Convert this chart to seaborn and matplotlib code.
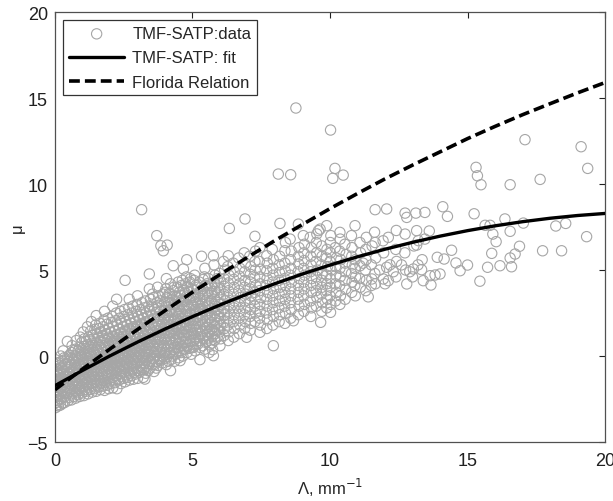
import numpy as np
import pandas as pd
import matplotlib
matplotlib.use('Agg')
import matplotlib.pyplot as plt
import seaborn as sns

# Scatter points (Lambda, mu), grouped by region
cloud_left = [
    (0.02,-3.0),(0.05,-2.7),(0.01,-2.4),(0.04,-2.1),(0.02,-1.8),(0.06,-1.5),(0.03,-1.2),(0.05,-0.9),(0.02,-0.6),(0.02,-0.22),
    (0.12,-2.9),(0.1,-2.6),(0.13,-2.3),(0.09,-2.0),(0.11,-1.7),(0.1,-1.4),(0.12,-1.1),(0.1,-0.8),(0.13,-0.4),
    (0.2,-2.85),(0.22,-2.5),(0.19,-2.2),(0.21,-1.9),(0.2,-1.6),(0.23,-1.3),(0.2,-1.0),(0.22,-0.7),(0.19,-0.35),(0.21,0.0),
    (0.35,-2.7),(0.33,-2.4),(0.36,-2.1),(0.34,-1.8),(0.37,-1.5),(0.35,-1.2),(0.33,-0.9),(0.36,-0.5),(0.34,-0.1),(0.3,0.3),
    (0.45,0.85),(0.47,-2.6),(0.44,-2.2),(0.48,-1.85),(0.46,-1.5),(0.45,-1.15),(0.48,-0.8),(0.44,-0.45),(0.46,-0.05),
    (0.6,-2.55),(0.62,-2.2),(0.58,-1.9),(0.61,-1.55),(0.6,-1.2),(0.63,-0.85),(0.59,-0.5),(0.61,-0.15),(0.6,0.2),(0.62,0.6),
    (0.75,-2.45),(0.77,-2.1),(0.74,-1.75),(0.76,-1.4),(0.75,-1.05),(0.78,-0.7),(0.74,-0.35),(0.76,0.0),(0.75,0.4),(0.77,0.9),
    (0.9,-2.35),(0.92,-2.0),(0.89,-1.65),(0.91,-1.3),(0.9,-0.95),(0.93,-0.6),(0.89,-0.25),(0.91,0.1),(0.9,0.5),(0.92,1.1),
    (1.05,-2.3),(1.07,-1.95),(1.04,-1.6),(1.06,-1.25),(1.05,-0.9),(1.08,-0.55),(1.04,-0.2),(1.06,0.15),(1.05,0.55),(1.07,1.0),(1.03,1.4),
    (1.2,-2.2),(1.22,-1.85),(1.19,-1.5),(1.21,-1.15),(1.2,-0.8),(1.23,-0.45),(1.19,-0.1),(1.21,0.25),(1.2,0.65),(1.22,1.1),(1.18,1.7),
    (1.35,-2.1),(1.37,-1.75),(1.34,-1.4),(1.36,-1.05),(1.35,-0.7),(1.38,-0.35),(1.34,0.0),(1.36,0.35),(1.35,0.75),(1.37,1.2),(1.33,2.0),
    (1.5,-2.05),(1.52,-1.7),(1.49,-1.35),(1.51,-1.0),(1.5,-0.65),(1.53,-0.3),(1.49,0.05),(1.51,0.4),(1.5,0.8),(1.52,1.3),(1.48,1.8),(1.5,2.35),
    (1.65,-1.95),(1.67,-1.6),(1.64,-1.25),(1.66,-0.9),(1.65,-0.55),(1.68,-0.2),(1.64,0.15),(1.66,0.5),(1.65,0.9),(1.67,1.4),(1.63,1.9),
    (1.8,-2.0),(1.82,-1.55),(1.79,-1.2),(1.81,-0.85),(1.8,-0.5),(1.83,-0.15),(1.79,0.2),(1.81,0.6),(1.8,1.0),(1.82,1.5),(1.78,2.1),(1.8,2.6),
    (1.95,-1.9),(1.97,-1.5),(1.94,-1.1),(1.96,-0.75),(1.95,-0.4),(1.98,-0.05),(1.94,0.3),(1.96,0.7),(1.95,1.1),(1.97,1.6),(1.93,2.2),
]

cloud_mid = [
    (2.1,-1.85),(2.12,-1.4),(2.09,-1.05),(2.11,-0.7),(2.1,-0.35),(2.13,0.0),(2.09,0.35),(2.11,0.75),(2.1,1.15),(2.12,1.7),(2.08,2.3),(2.1,2.9),
    (2.25,-1.9),(2.27,-1.35),(2.24,-0.95),(2.26,-0.6),(2.25,-0.25),(2.28,0.1),(2.24,0.45),(2.26,0.85),(2.25,1.25),(2.27,1.8),(2.23,2.5),(2.24,3.3),
    (2.4,-1.6),(2.42,-1.2),(2.39,-0.85),(2.41,-0.5),(2.4,-0.15),(2.43,0.2),(2.39,0.55),(2.41,0.95),(2.4,1.35),(2.42,1.9),(2.38,2.6),
    (2.55,-1.5),(2.57,-1.1),(2.54,-0.75),(2.56,-0.4),(2.55,-0.05),(2.58,0.3),(2.54,0.65),(2.56,1.05),(2.55,1.5),(2.57,2.0),(2.53,2.7),(2.55,4.4),
    (2.7,-1.4),(2.72,-1.0),(2.69,-0.65),(2.71,-0.3),(2.7,0.05),(2.73,0.4),(2.69,0.75),(2.71,1.15),(2.7,1.6),(2.72,2.1),(2.68,2.8),(2.7,3.3),
    (2.85,-1.35),(2.87,-0.95),(2.84,-0.55),(2.86,-0.2),(2.85,0.15),(2.88,0.5),(2.84,0.85),(2.86,1.25),(2.85,1.7),(2.87,2.2),(2.83,2.9),
    (3.0,-1.3),(3.02,-0.85),(2.99,-0.45),(3.01,-0.1),(3.0,0.25),(3.03,0.6),(2.99,0.95),(3.01,1.35),(3.0,1.8),(3.02,2.3),(2.98,3.0),(3.0,3.5),
    (3.15,-0.8),(3.17,-0.4),(3.14,0.0),(3.16,0.35),(3.15,0.7),(3.18,1.05),(3.14,1.45),(3.16,1.9),(3.15,2.4),(3.17,3.1),
    (3.21,-1.24),(3.27,-1.34),
    (3.3,-1.0),(3.32,-0.6),(3.29,-0.25),(3.31,0.1),(3.3,0.45),(3.33,0.8),(3.29,1.15),(3.31,1.55),(3.3,2.0),(3.32,2.5),(3.28,3.2),
    (3.45,-0.7),(3.47,-0.3),(3.44,0.05),(3.46,0.45),(3.45,0.85),(3.48,1.25),(3.44,1.65),(3.46,2.1),(3.45,2.6),(3.47,3.3),(3.43,3.9),(3.43,4.77),
    (3.6,-0.9),(3.62,-0.5),(3.59,-0.15),(3.61,0.2),(3.6,0.55),(3.63,0.95),(3.59,1.35),(3.61,1.75),(3.6,2.2),(3.62,2.7),(3.58,3.4),
    (3.75,-0.55),(3.77,-0.15),(3.74,0.25),(3.76,0.65),(3.75,1.05),(3.78,1.45),(3.74,1.85),(3.76,2.3),(3.75,2.8),(3.77,3.5),(3.73,4.0),
    (3.82,-0.27),
    (3.9,-0.4),(3.92,0.0),(3.89,0.4),(3.91,0.75),(3.9,1.15),(3.93,1.55),(3.89,1.95),(3.91,2.4),(3.9,2.9),(3.92,3.6),
    (4.05,-0.5),(4.07,-0.05),(4.04,0.35),(4.06,0.75),(4.05,1.15),(4.08,1.55),(4.04,1.95),(4.06,2.4),(4.05,2.9),(4.07,3.4),(4.03,3.9),(4.05,4.5),
    (4.2,-0.85),(4.22,-0.2),(4.19,0.2),(4.21,0.6),(4.2,1.0),(4.23,1.4),(4.19,1.8),(4.21,2.2),(4.2,2.65),(4.22,3.1),(4.18,3.6),(4.2,4.2),
    (4.35,-0.3),(4.37,0.1),(4.34,0.5),(4.36,0.9),(4.35,1.3),(4.38,1.7),(4.34,2.1),(4.36,2.5),(4.35,3.0),(4.37,3.5),(4.33,4.0),(4.3,5.25),
    (4.5,-0.1),(4.52,0.3),(4.49,0.7),(4.51,1.1),(4.5,1.5),(4.53,1.9),(4.49,2.3),(4.51,2.75),(4.5,3.2),(4.52,3.7),(4.48,4.3),
    (4.55,-0.27),
    (4.65,0.0),(4.67,0.4),(4.64,0.8),(4.66,1.2),(4.65,1.6),(4.68,2.0),(4.64,2.4),(4.66,2.85),(4.65,3.3),(4.67,3.8),(4.63,4.4),(4.67,5.06),
    (4.8,0.2),(4.82,0.6),(4.79,1.0),(4.81,1.4),(4.8,1.8),(4.83,2.2),(4.79,2.6),(4.81,3.0),(4.8,3.5),(4.82,4.0),(4.78,4.6),(4.79,5.6),
    (4.95,0.1),(4.97,0.5),(4.94,0.9),(4.96,1.3),(4.95,1.7),(4.98,2.1),(4.94,2.5),(4.96,2.95),(4.95,3.4),(4.97,3.9),(4.93,4.5),
]

# extra points filling the dense core between the columns above
cloud_core = [
    (0.07,-2.85),(0.08,-2.55),(0.06,-2.25),(0.07,-1.95),(0.09,-1.65),(0.06,-1.35),(0.08,-1.05),(0.07,-0.75),
    (0.28,-2.75),(0.27,-2.35),(0.29,-2.0),(0.26,-1.65),(0.28,-1.35),(0.3,-1.05),(0.27,-0.75),(0.28,-0.3),
    (0.52,-2.4),(0.54,-2.05),(0.51,-1.7),(0.53,-1.35),(0.52,-1.0),(0.55,-0.65),(0.51,-0.3),(0.53,0.05),
    (0.68,-2.35),(0.7,-2.0),(0.67,-1.6),(0.69,-1.25),(0.68,-0.95),(0.71,-0.55),(0.67,-0.2),(0.69,0.3),
    (0.83,-2.25),(0.85,-1.9),(0.82,-1.55),(0.84,-1.2),(0.83,-0.85),(0.86,-0.45),(0.82,-0.1),(0.84,0.3),
    (0.98,-2.15),(1.0,-1.8),(0.97,-1.45),(0.99,-1.1),(0.98,-0.7),(1.01,-0.35),(0.97,0.0),(0.99,0.35),(0.98,0.8),
    (1.13,-2.05),(1.15,-1.7),(1.12,-1.35),(1.14,-1.0),(1.13,-0.65),(1.16,-0.3),(1.12,0.05),(1.14,0.45),(1.13,0.85),
    (1.28,-1.95),(1.3,-1.6),(1.27,-1.25),(1.29,-0.9),(1.28,-0.55),(1.31,-0.2),(1.27,0.15),(1.29,0.55),(1.28,0.95),(1.3,1.45),
    (1.43,-1.9),(1.45,-1.55),(1.42,-1.2),(1.44,-0.85),(1.43,-0.5),(1.46,-0.15),(1.42,0.2),(1.44,0.6),(1.43,1.05),(1.45,1.55),
    (1.58,-1.8),(1.6,-1.45),(1.57,-1.1),(1.59,-0.75),(1.58,-0.4),(1.61,-0.05),(1.57,0.3),(1.59,0.65),(1.58,1.1),(1.6,1.6),
    (1.73,-1.75),(1.75,-1.4),(1.72,-1.05),(1.74,-0.7),(1.73,-0.35),(1.76,0.0),(1.72,0.4),(1.74,0.8),(1.73,1.2),(1.75,1.7),
    (1.88,-1.7),(1.9,-1.3),(1.87,-0.95),(1.89,-0.6),(1.88,-0.25),(1.91,0.1),(1.87,0.5),(1.89,0.9),(1.88,1.3),(1.9,1.85),
    (2.03,-1.6),(2.05,-1.25),(2.02,-0.9),(2.04,-0.55),(2.03,-0.2),(2.06,0.15),(2.02,0.55),(2.04,0.95),(2.03,1.4),(2.05,1.95),
    (2.18,-1.55),(2.2,-1.15),(2.17,-0.8),(2.19,-0.45),(2.18,-0.1),(2.21,0.25),(2.17,0.6),(2.19,1.0),(2.18,1.45),(2.2,2.05),
    (2.33,-1.4),(2.35,-1.05),(2.32,-0.7),(2.34,-0.35),(2.33,0.0),(2.36,0.35),(2.32,0.75),(2.34,1.1),(2.33,1.55),(2.35,2.2),
    (2.48,-1.3),(2.5,-0.95),(2.47,-0.6),(2.49,-0.25),(2.48,0.1),(2.51,0.45),(2.47,0.85),(2.49,1.25),(2.48,1.7),(2.5,2.3),
    (2.63,-1.25),(2.65,-0.85),(2.62,-0.5),(2.64,-0.15),(2.63,0.2),(2.66,0.55),(2.62,0.95),(2.64,1.35),(2.63,1.8),(2.65,2.4),
    (2.78,-1.15),(2.8,-0.75),(2.77,-0.4),(2.79,-0.05),(2.78,0.3),(2.81,0.65),(2.77,1.05),(2.79,1.45),(2.78,1.9),(2.8,2.5),
    (2.93,-1.05),(2.95,-0.65),(2.92,-0.3),(2.94,0.05),(2.93,0.4),(2.96,0.75),(2.92,1.15),(2.94,1.55),(2.93,2.0),(2.95,2.6),
    (3.08,-0.95),(3.1,-0.6),(3.07,-0.25),(3.09,0.15),(3.08,0.5),(3.11,0.85),(3.07,1.25),(3.09,1.65),(3.08,2.1),(3.1,2.7),
    (3.23,-0.8),(3.25,-0.45),(3.22,-0.1),(3.24,0.25),(3.23,0.6),(3.26,0.95),(3.22,1.35),(3.24,1.75),(3.23,2.2),(3.25,2.8),
    (3.38,-0.85),(3.4,-0.45),(3.37,-0.1),(3.39,0.25),(3.38,0.65),(3.41,1.0),(3.37,1.4),(3.39,1.8),(3.38,2.3),(3.4,2.9),
    (3.53,-0.5),(3.55,-0.15),(3.52,0.25),(3.54,0.6),(3.53,1.0),(3.56,1.4),(3.52,1.85),(3.54,2.35),(3.53,2.9),(3.55,3.6),
    (3.68,-0.7),(3.7,-0.3),(3.67,0.05),(3.69,0.45),(3.68,0.85),(3.71,1.25),(3.67,1.65),(3.69,2.05),(3.68,2.55),(3.7,3.1),
    (3.83,-0.2),(3.85,0.2),(3.82,0.55),(3.84,0.95),(3.83,1.35),(3.86,1.75),(3.82,2.15),(3.84,2.6),(3.83,3.2),
    (3.98,-0.15),(4.0,0.2),(3.97,0.6),(3.99,1.0),(3.98,1.35),(4.01,1.75),(3.97,2.2),(3.99,2.65),(3.98,3.15),(4.0,3.7),
    (4.13,-0.3),(4.15,0.15),(4.12,0.55),(4.14,0.95),(4.13,1.35),(4.16,1.75),(4.12,2.15),(4.14,2.6),(4.13,3.1),(4.15,3.65),
    (4.28,0.0),(4.3,0.4),(4.27,0.8),(4.29,1.2),(4.28,1.6),(4.31,2.0),(4.27,2.4),(4.29,2.85),(4.28,3.3),(4.3,3.8),
    (4.43,0.15),(4.45,0.5),(4.42,0.9),(4.44,1.3),(4.43,1.7),(4.46,2.1),(4.42,2.55),(4.44,3.0),(4.43,3.45),(4.45,4.0),
    (4.58,0.2),(4.6,0.6),(4.57,1.0),(4.59,1.4),(4.58,1.8),(4.61,2.2),(4.57,2.6),(4.59,3.05),(4.58,3.5),(4.6,4.1),
    (4.73,0.4),(4.75,0.8),(4.72,1.2),(4.74,1.6),(4.73,2.0),(4.76,2.4),(4.72,2.85),(4.74,3.25),(4.73,3.7),(4.75,4.2),
    (4.88,0.45),(4.9,0.85),(4.87,1.25),(4.89,1.65),(4.88,2.05),(4.91,2.45),(4.87,2.85),(4.89,3.3),(4.88,3.75),(4.9,4.3),
    (5.03,0.5),(5.05,0.9),(5.02,1.3),(5.04,1.7),(5.03,2.1),(5.06,2.5),(5.02,2.95),(5.04,3.4),(5.03,3.85),(5.05,4.4),
    (5.2,0.7),(5.22,1.1),(5.19,1.5),(5.21,1.9),(5.2,2.3),(5.23,2.7),(5.19,3.1),(5.21,3.55),(5.2,4.0),
    (5.37,0.6),(5.39,1.0),(5.36,1.4),(5.38,1.8),(5.37,2.2),(5.4,2.6),(5.36,3.0),(5.38,3.45),(5.37,3.9),(5.39,4.45),
    (5.53,0.85),(5.55,1.25),(5.52,1.65),(5.54,2.05),(5.53,2.45),(5.56,2.85),(5.52,3.25),(5.54,3.7),(5.53,4.2),
    (5.7,0.75),(5.72,1.15),(5.69,1.55),(5.71,1.95),(5.7,2.35),(5.73,2.75),(5.69,3.2),(5.71,3.65),(5.7,4.1),
    (5.9,1.1),(5.92,1.5),(5.89,1.9),(5.91,2.3),(5.9,2.7),(5.93,3.1),(5.89,3.55),(5.91,4.0),(5.9,4.5),
]

cloud_right = [
    (5.1,0.3),(5.12,0.7),(5.09,1.1),(5.11,1.5),(5.1,1.9),(5.13,2.3),(5.09,2.7),(5.11,3.15),(5.1,3.6),(5.12,4.1),(5.08,4.7),
    (5.27,-0.21),(5.28,0.5),(5.26,0.9),(5.29,1.3),(5.27,1.7),(5.3,2.1),(5.26,2.5),(5.28,2.9),(5.27,3.35),(5.29,3.8),(5.25,4.3),(5.33,5.8),
    (5.45,0.4),(5.47,0.8),(5.44,1.2),(5.46,1.6),(5.45,2.0),(5.48,2.4),(5.44,2.8),(5.46,3.2),(5.45,3.6),(5.47,4.1),(5.43,4.6),(5.45,5.1),
    (5.6,0.2),(5.62,0.65),(5.59,1.05),(5.61,1.45),(5.6,1.85),(5.63,2.25),(5.59,2.65),(5.61,3.05),(5.6,3.5),(5.62,3.95),(5.58,4.5),
    (5.76,0.02),(5.73,0.37),(5.76,1.48),(5.76,5.83),
    (5.8,0.9),(5.82,1.3),(5.79,1.7),(5.81,2.1),(5.8,2.5),(5.83,2.9),(5.79,3.3),(5.81,3.75),(5.8,4.2),(5.82,4.7),(5.78,5.3),
    (6.0,0.6),(6.02,1.0),(5.99,1.4),(6.01,1.8),(6.0,2.2),(6.03,2.6),(5.99,3.0),(6.01,3.4),(6.0,3.85),(6.02,4.3),(5.98,4.8),
    (6.15,1.2),(6.17,1.6),(6.14,2.0),(6.16,2.4),(6.15,2.8),(6.18,3.2),(6.14,3.6),(6.16,4.05),(6.15,4.5),(6.17,5.0),(6.13,5.5),
    (6.3,0.9),(6.32,1.4),(6.29,1.8),(6.31,2.2),(6.3,2.6),(6.33,3.0),(6.29,3.4),(6.31,3.8),(6.3,4.25),(6.32,4.7),(6.28,5.2),(6.3,5.83),(6.34,7.42),
    (6.5,1.1),(6.52,1.6),(6.49,2.0),(6.51,2.4),(6.5,2.8),(6.53,3.2),(6.49,3.6),(6.51,4.0),(6.5,4.45),(6.52,4.9),(6.48,5.4),
    (6.7,1.3),(6.72,1.8),(6.69,2.2),(6.71,2.6),(6.7,3.0),(6.73,3.4),(6.69,3.8),(6.71,4.2),(6.7,4.65),(6.72,5.1),(6.68,5.7),
    (6.97,1.09),(6.9,1.6),(6.92,2.0),(6.89,2.4),(6.91,2.8),(6.9,3.2),(6.93,3.6),(6.89,4.0),(6.91,4.4),(6.9,4.9),(6.92,5.4),(6.88,6.0),(6.91,7.97),
    (7.1,1.5),(7.12,1.9),(7.09,2.3),(7.11,2.7),(7.1,3.1),(7.13,3.5),(7.09,3.9),(7.11,4.3),(7.1,4.75),(7.12,5.2),(7.08,5.8),
    (7.27,2.0),(7.29,2.5),(7.26,2.9),(7.28,3.3),(7.27,3.7),(7.3,4.1),(7.26,4.55),(7.28,5.0),(7.27,5.5),(7.29,6.1),(7.27,6.96),
    (7.45,1.38),(7.47,1.8),(7.44,2.2),(7.46,2.6),(7.45,3.0),(7.48,3.4),(7.44,3.8),(7.46,4.2),(7.45,4.6),(7.47,5.05),(7.43,5.5),(7.45,6.3),
    (7.7,1.6),(7.72,2.1),(7.69,2.5),(7.71,2.9),(7.7,3.3),(7.73,3.7),(7.69,4.1),(7.71,4.5),(7.7,4.95),(7.72,5.4),(7.7,5.83),
    (7.94,0.6),(7.92,1.8),(7.94,2.3),(7.91,2.7),(7.93,3.1),(7.92,3.5),(7.95,3.9),(7.91,4.3),(7.93,4.7),(7.92,5.1),(7.94,5.6),(7.9,6.2),
    (8.15,2.0),(8.17,2.4),(8.14,2.8),(8.16,3.2),(8.15,3.6),(8.18,4.0),(8.14,4.4),(8.16,4.85),(8.15,5.3),(8.17,5.8),(8.18,7.71),
    (8.36,1.9),(8.38,2.5),(8.35,2.9),(8.37,3.3),(8.36,3.7),(8.39,4.1),(8.35,4.5),(8.37,4.95),(8.36,5.4),(8.36,6.12),(8.38,6.6),
    (8.57,2.2),(8.59,2.7),(8.56,3.1),(8.58,3.5),(8.57,3.9),(8.6,4.3),(8.56,4.7),(8.58,5.1),(8.57,5.6),(8.59,6.1),(8.55,6.8),(8.67,2.05),
    (8.85,2.4),(8.87,2.9),(8.84,3.3),(8.86,3.7),(8.85,4.1),(8.88,4.5),(8.84,4.9),(8.86,5.35),(8.85,5.8),(8.87,6.3),(8.85,7.67),
    (9.05,2.6),(9.07,3.0),(9.04,3.5),(9.06,3.9),(9.05,4.3),(9.08,4.7),(9.04,5.1),(9.06,5.55),(9.05,6.0),(9.07,6.5),(9.03,7.0),
    (9.3,2.3),(9.32,2.8),(9.29,3.2),(9.31,3.7),(9.3,4.1),(9.33,4.5),(9.29,4.9),(9.31,5.3),(9.3,5.8),(9.32,6.3),(9.28,6.9),
    (9.5,2.9),(9.52,3.4),(9.49,3.8),(9.51,4.2),(9.5,4.6),(9.53,5.0),(9.49,5.5),(9.51,6.0),(9.5,6.6),(9.52,7.1),
    (9.66,1.96),(9.64,7.38),(9.58,7.29),
    (9.7,2.6),(9.72,3.1),(9.69,3.6),(9.71,4.0),(9.7,4.4),(9.73,4.8),(9.69,5.3),(9.71,5.8),(9.7,6.4),
    (9.88,7.58),(9.88,2.8),(9.9,3.3),(9.87,3.8),(9.89,4.2),(9.88,4.7),(9.91,5.2),(9.87,5.7),(9.89,6.2),
    (10.02,2.54),(10.03,3.0),(10.0,3.5),(10.02,4.0),(10.01,4.5),(10.04,5.0),(10.0,5.5),(10.02,6.0),(10.01,6.6),(10.03,7.0),
    (10.2,3.2),(10.22,3.7),(10.19,4.2),(10.21,4.7),(10.2,5.2),(10.23,5.7),(10.19,6.3),
    (10.36,3.0),(10.38,3.5),(10.35,4.1),(10.37,4.6),(10.36,5.1),(10.39,5.6),(10.35,6.1),(10.37,6.8),(10.36,7.19),
    (10.55,3.3),(10.57,3.9),(10.54,4.4),(10.56,4.9),(10.55,5.4),(10.58,5.9),(10.54,6.5),
]

sparse_pts = [
    (10.79,3.7),(10.8,4.3),(10.78,4.8),(10.81,5.3),(10.79,5.8),(10.8,6.3),(10.78,7.0),
    (10.91,7.58),(10.92,3.5),(10.9,4.1),(10.93,4.6),(10.91,5.1),(10.92,5.6),
    (11.09,5.25),(11.1,4.0),(11.08,4.5),(11.11,6.0),(11.09,6.6),(11.2,5.4),
    (11.3,3.8),(11.32,4.4),(11.29,5.0),(11.31,5.6),(11.3,6.2),(11.32,6.9),(11.39,3.44),
    (11.52,4.48),(11.5,5.3),(11.53,6.4),(11.5,4.1),(11.64,8.51),(11.65,4.2),(11.63,4.8),(11.66,5.7),(11.64,6.6),(11.62,7.2),
    (11.8,5.0),(11.94,4.48),(12.06,5.16),(11.95,6.0),(11.93,6.7),(12.06,8.55),(12.12,4.38),(12.12,6.9),(12.18,5.3),(12.0,4.2),
    (12.3,4.9),(12.4,4.6),(12.42,5.5),(12.39,6.2),(12.41,7.3),(12.6,5.3),
    (12.73,8.31),(12.73,7.09),(12.79,4.19),(12.75,5.0),(12.72,6.0),(12.79,8.06),(12.9,4.9),
    (13.0,4.6),(13.03,5.06),(13.05,6.4),(13.12,8.31),(13.15,7.29),(13.21,6.71),(13.15,6.45),(13.2,5.3),
    (13.33,5.02),(13.39,4.38),(13.35,5.6),(13.45,8.35),(13.45,6.8),(13.61,7.27),(13.64,4.67),
    (13.67,4.13),(13.82,4.71),(13.9,5.74),(14.0,4.77),(14.1,8.68),(14.15,5.64),(14.27,8.12),(14.42,6.15),
    (14.58,5.41),(14.73,4.96),(15.0,5.29),(15.24,8.27),
    (15.31,10.97),(15.36,10.48),(15.49,9.96),(15.45,4.35),(15.64,7.6),(15.82,7.6),(15.88,5.97),(15.73,5.16),
    (15.92,7.09),(16.04,6.65),(16.18,5.25),(16.36,7.97),(16.55,9.96),(16.55,7.25),(16.55,5.7),(16.6,5.19),
    (16.73,5.93),(16.89,6.38),(17.03,7.73),(17.09,12.58),(17.64,10.27),(17.73,6.12),(18.21,7.56),(18.42,6.12),
    (18.57,7.71),(19.13,12.17),(19.33,6.94),(19.37,10.91),
]

high_outliers = [
    (8.76,14.42),(10.02,13.14),(8.12,10.58),(8.57,10.54),(10.18,10.91),(10.1,10.33),(10.48,10.52),
    (3.15,8.51),(3.7,7.0),(3.85,6.41),(4.08,6.45),(3.94,6.12),
]

# Curves at integer Lambda
curve_x = [0, 1, 2, 3, 4, 5, 6, 7, 8, 9, 10, 11, 12, 13, 14, 15, 16, 17, 18, 19, 20]
fit_mu = [-1.72, -0.84, 0.01, 0.81, 1.57, 2.29, 2.97, 3.61, 4.21, 4.77, 5.29,
          5.77, 6.21, 6.61, 6.97, 7.29, 7.57, 7.81, 8.01, 8.17, 8.29]
florida_mu = [-1.96, -0.76, 0.41, 1.54, 2.64, 3.71, 4.74, 5.74, 6.72, 7.65, 8.57,
              9.45, 10.3, 11.1, 11.87, 12.64, 13.35, 14.03, 14.67, 15.3, 15.9]

pts = pd.DataFrame(cloud_left + cloud_mid + cloud_core + cloud_right + sparse_pts + high_outliers,
                   columns=['lam', 'mu'])
curves = pd.DataFrame({'lam': curve_x, 'fit': fit_mu, 'florida': florida_mu})

sns.set_theme(style='white')
plt.rcParams['font.family'] = ['Liberation Sans', 'DejaVu Sans']

fig = plt.figure(figsize=(6.13, 5.02), dpi=100)
ax = fig.add_axes([0.0897, 0.1175, 0.8973, 0.8565])

sns.scatterplot(data=pts, x='lam', y='mu', ax=ax, marker='o', s=55,
                facecolors='none', edgecolor='#a6a6a6', linewidth=0.8,
                label='TMF-SATP:data', zorder=2)
sns.lineplot(data=curves, x='lam', y='fit', ax=ax, color='black', linewidth=2.4,
             label='TMF-SATP: fit', zorder=3)
sns.lineplot(data=curves, x='lam', y='florida', ax=ax, color='black', linewidth=2.6,
             linestyle=(0, (3, 1.4)), label='Florida Relation', zorder=3)

ax.set_xlim(0, 20)
ax.set_ylim(-5, 20)
ax.set_xticks([0, 5, 10, 15, 20])
ax.set_yticks([-5, 0, 5, 10, 15, 20])
ax.tick_params(direction='in', top=True, right=True, length=4, width=0.8,
               labelsize=13, colors='#202020', pad=5)
ax.tick_params(axis='x', pad=7)
for sp in ax.spines.values():
    sp.set_color('#505050')
    sp.set_linewidth(0.9)

ax.set_xlabel('Λ, mm$^{-1}$', fontsize=12, labelpad=5)
ax.set_ylabel('μ', fontsize=12, labelpad=2)

leg = ax.legend(loc='upper left', fontsize=12, frameon=True, fancybox=False,
                edgecolor='black', handlelength=3.3, handletextpad=0.5,
                borderaxespad=0.5, labelspacing=0.55, borderpad=0.35)
leg.get_frame().set_linewidth(0.9)

fig.savefig('out.png', dpi=100, facecolor='white')
